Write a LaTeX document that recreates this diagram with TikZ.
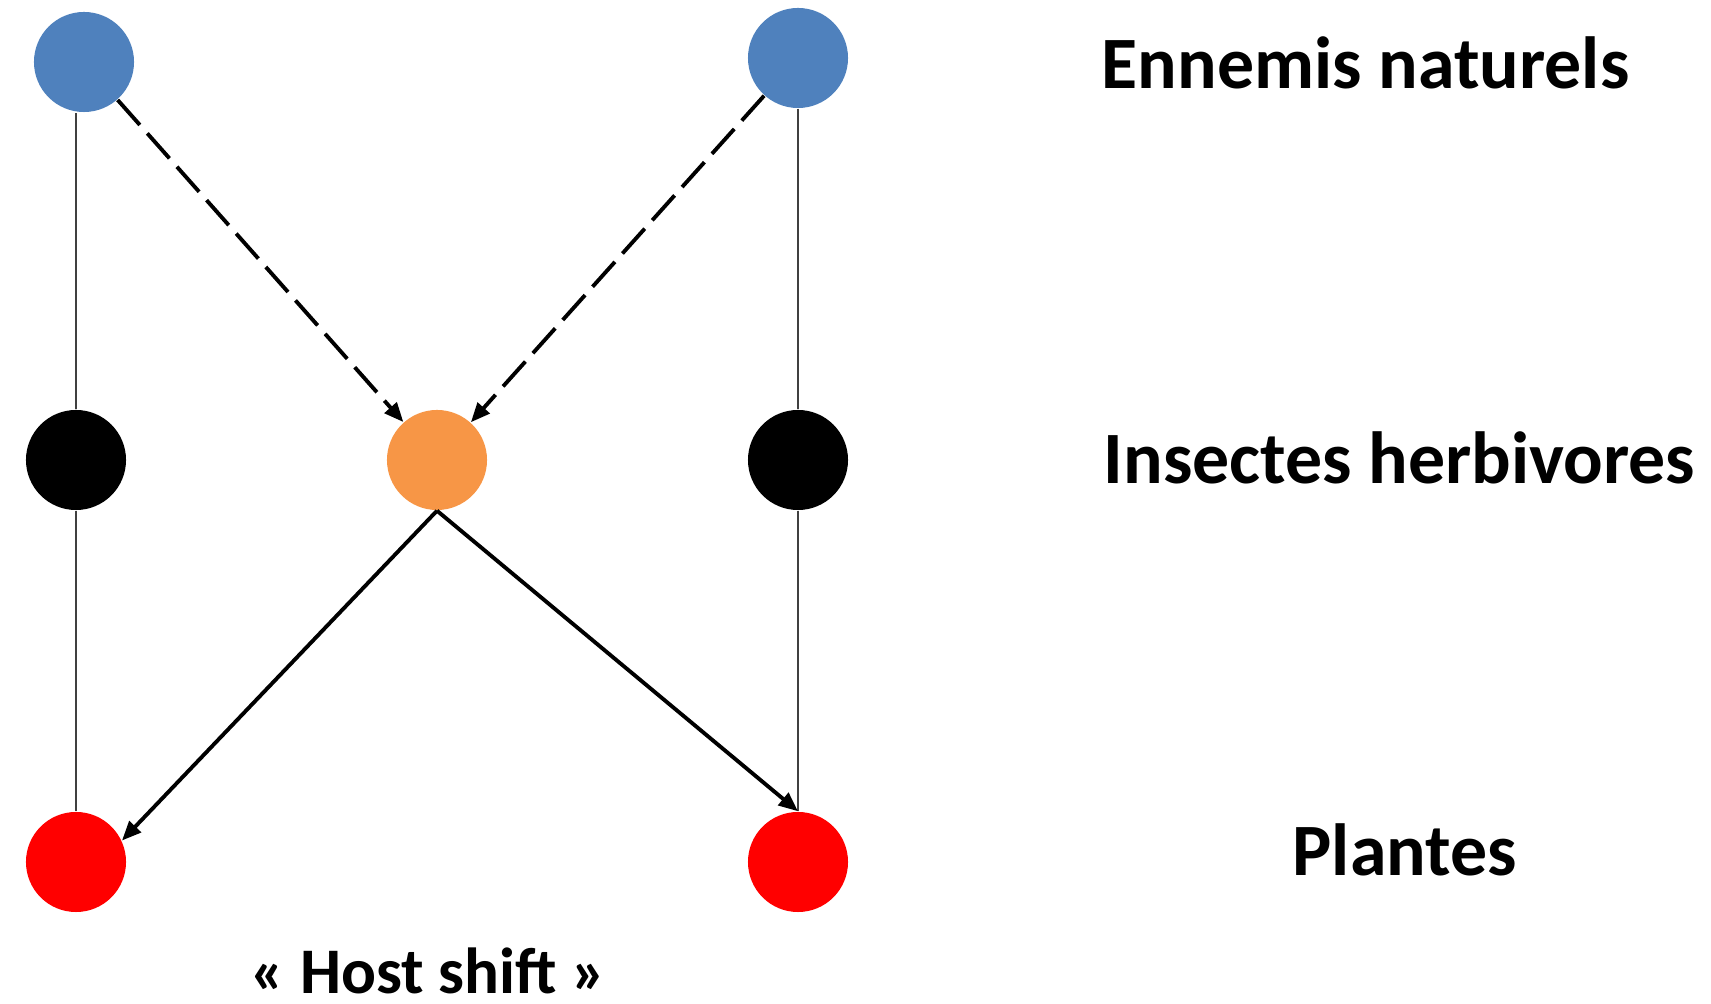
\documentclass[tikz,border=0pt]{standalone}
\usepackage{fontspec}
\setmainfont{Carlito}
\usetikzlibrary{arrows.meta}
\definecolor{enemyblue}{HTML}{4F81BD}
\definecolor{hostorange}{HTML}{F79646}

\begin{document}
\begin{tikzpicture}[x=0.01cm,y=-0.01cm,
        dot/.style={circle,minimum size=1cm,inner sep=0pt},
        link/.style={draw=black!75,line width=0.6pt},
        hostarrow/.style={line width=1.1pt,-{Triangle[length=5.5pt,width=4.5pt]}},
        attack/.style={hostarrow,dash pattern=on 9.5pt off 3.2pt},
        lbl/.style={anchor=base west,inner sep=0pt,font=\fontsize{21}{25}\selectfont\bfseries}]
    \useasboundingbox (0,0) rectangle (1711,1004);
    % les trois niveaux
    \node[dot,fill=enemyblue] (enemyL) at (84,62) {};
    \node[dot,fill=enemyblue] (enemyR) at (798,58) {};
    \node[dot,fill=black] (herbL) at (76,460) {};
    \node[dot,fill=hostorange] (herbM) at (437,460) {};
    \node[dot,fill=black] (herbR) at (798,460) {};
    \node[dot,fill=red] (plantL) at (76,862) {};
    \node[dot,fill=red] (plantR) at (798,862) {};
    % liens
    \draw[link] (herbL.north) -- (herbL.north |- enemyL.south);
    \draw[link] (herbL.south) -- (plantL.north);
    \draw[link] (enemyR.south) -- (herbR.north);
    \draw[link] (herbR.south) -- (plantR.north);
    \draw[attack] (enemyL) -- (herbM);
    \draw[attack] (enemyR) -- (herbM);
    \draw[hostarrow] (herbM.south) -- (plantL.25);
    \draw[hostarrow] (herbM.south) -- (plantR.north);
    % textes
    \node[lbl] (tEnemy) at (1101,89) {Ennemis naturels};
    \node[lbl] (tHerb) at (1103,484) {Insectes herbivores};
    \node[lbl] (tPlant) at (1292,876) {Plantes};
    \node[lbl,font=\fontsize{18.5}{22}\selectfont\bfseries] (tShift) at (250,994) {« Host shift »};
\end{tikzpicture}
\end{document}
